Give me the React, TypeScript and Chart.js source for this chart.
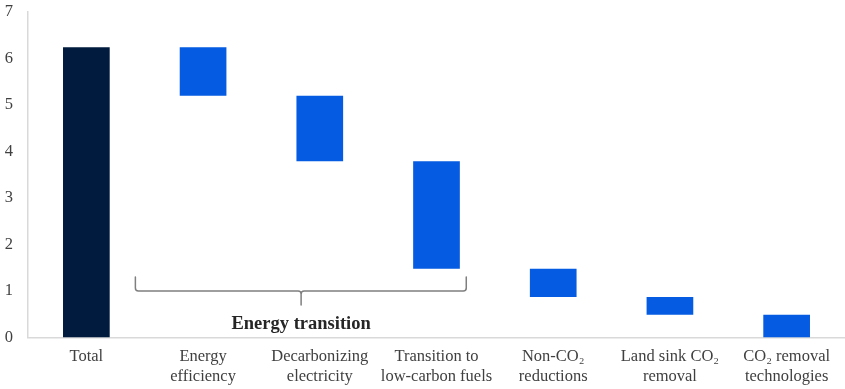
import React, { useEffect, useRef } from "react";
import { Chart, registerables } from "chart.js";

Chart.register(...registerables);

const categories: (string | string[])[] = [
  "Total",
  ["Energy", "efficiency"],
  ["Decarbonizing", "electricity"],
  ["Transition to", "low-carbon fuels"],
  ["Non-CO\u2082", "reductions"],
  ["Land sink CO\u2082", "removal"],
  ["CO\u2082 removal", "technologies"],
];

const totalValue = 6.24;
const reductions = [1.04, 1.41, 2.31, 0.61, 0.38, 0.49];

const yTicks = [0, 1, 2, 3, 4, 5, 6, 7];

const braceLabel = "Energy transition";
// brace position in axis units (category index, value)
const braceX = { start: 0.42, mid: 1.84, end: 3.255 };
const braceY = { top: 1.3, bar: 1.0, tip: 0.7, label: 0.29 };

const TOTAL_COLOR = "#011b3e";
const STEP_COLOR = "#055be1";
const SERIF = "'Liberation Serif', 'Times New Roman', serif";

function buildBars(): [number, number][] {
  const bars: [number, number][] = [[0, totalValue]];
  let level = totalValue;
  for (const r of reductions) {
    const next = Math.max(0, +(level - r).toFixed(4));
    bars.push([next, level]);
    level = next;
  }
  return bars;
}

const bracePlugin = {
  id: "brace",
  afterDatasetsDraw(chart: any) {
    const { ctx, scales } = chart;
    const x = scales.x;
    const y = scales.y;
    const xl = x.getPixelForValue(braceX.start);
    const xm = x.getPixelForValue(braceX.mid);
    const xr = x.getPixelForValue(braceX.end);
    const yt = y.getPixelForValue(braceY.top);
    const yb = y.getPixelForValue(braceY.bar);
    const ytip = y.getPixelForValue(braceY.tip);
    const r = 3;
    ctx.save();
    ctx.strokeStyle = "#7f7f7f";
    ctx.lineWidth = 1.5;
    ctx.lineCap = "round";
    ctx.lineJoin = "round";
    ctx.beginPath();
    ctx.moveTo(xl, yt);
    ctx.lineTo(xl, yb - r);
    ctx.quadraticCurveTo(xl, yb, xl + r, yb);
    ctx.lineTo(xm - r, yb);
    ctx.quadraticCurveTo(xm, yb, xm, yb + r);
    ctx.lineTo(xm, ytip);
    ctx.moveTo(xm, yb + r);
    ctx.quadraticCurveTo(xm, yb, xm + r, yb);
    ctx.lineTo(xr - r, yb);
    ctx.quadraticCurveTo(xr, yb, xr, yb - r);
    ctx.lineTo(xr, yt);
    ctx.stroke();
    ctx.fillStyle = "#262626";
    ctx.font = `bold 18.5px ${SERIF}`;
    ctx.textAlign = "center";
    ctx.textBaseline = "middle";
    ctx.fillText(braceLabel, xm, y.getPixelForValue(braceY.label));
    ctx.restore();
  },
};

export default function App() {
  const ref = useRef<HTMLCanvasElement | null>(null);
  useEffect(() => {
    if (!ref.current) return;
    const bars = buildBars();
    const chart = new Chart(ref.current, {
      type: "bar",
      data: {
        labels: categories as any,
        datasets: [
          {
            data: bars as any,
            backgroundColor: bars.map((_, i) => (i === 0 ? TOTAL_COLOR : STEP_COLOR)),
            borderWidth: 0,
            barPercentage: 0.4,
            categoryPercentage: 1,
          },
        ],
      },
      options: {
        animation: false,
        responsive: false,
        maintainAspectRatio: false,
        layout: { padding: { top: 12, right: 0, left: 0, bottom: 0 } },
        plugins: { legend: { display: false }, tooltip: { enabled: false }, title: { display: false } },
        scales: {
          x: {
            grid: { display: false, drawTicks: false },
            border: { display: true, color: "#d9d9d9", width: 1.5 },
            ticks: {
              color: "#404040",
              font: { family: SERIF, size: 16.5, lineHeight: 1.2 },
              padding: 9,
              maxRotation: 0,
              autoSkip: false,
            },
            afterFit(scale: any) {
              scale.height = 51.5;
              scale.paddingLeft = 0;
              scale.paddingRight = 0;
            },
          },
          y: {
            min: 0,
            max: 7,
            afterBuildTicks(scale: any) {
              scale.ticks = yTicks.map((v) => ({ value: v }));
            },
            grid: { display: false, drawTicks: false },
            border: { display: true, color: "#d9d9d9", width: 1.5 },
            ticks: {
              color: "#404040",
              font: { family: SERIF, size: 16.5 },
              padding: 15,
            },
            afterFit(scale: any) {
              scale.width = 28;
              scale.paddingTop = 0;
              scale.paddingBottom = 0;
            },
          },
        },
      },
      plugins: [bracePlugin],
    });
    return () => chart.destroy();
  }, []);
  return (
    <div style={{ position: "fixed", left: 0, top: 0, width: 845, height: 389, background: "#fff" }}>
      <canvas ref={ref} width={845} height={389} style={{ width: 845, height: 389, display: "block" }} />
    </div>
  );
}
